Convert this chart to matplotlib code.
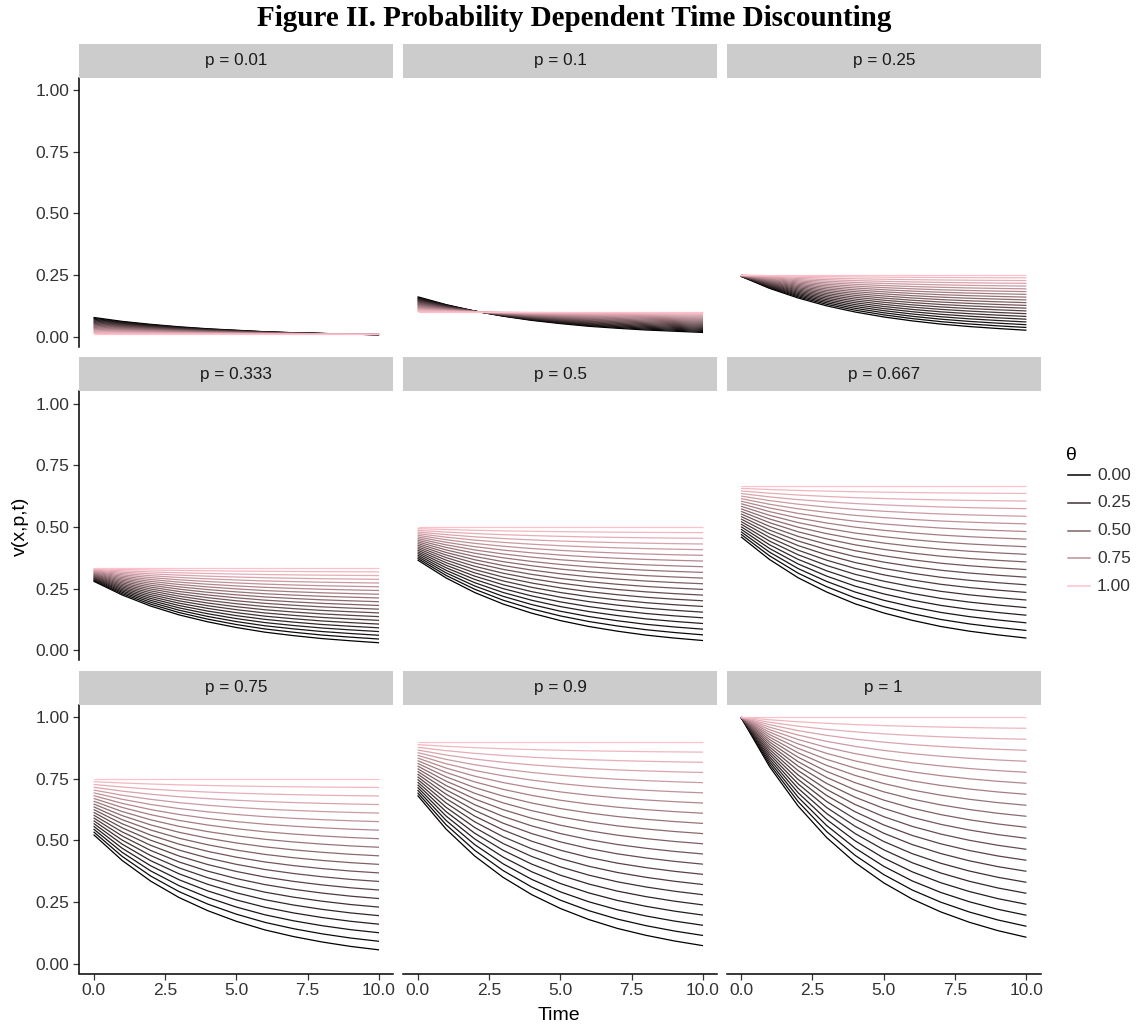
import numpy as np
import matplotlib
matplotlib.use("Agg")
import matplotlib.pyplot as plt
from matplotlib.lines import Line2D

plt.rcParams['font.family'] = ['Liberation Sans', 'DejaVu Sans']

# facets
p_values = [0.01, 0.1, 0.25, 0.333, 0.5, 0.667, 0.75, 0.9, 1]
panel_labels = ["p = 0.01", "p = 0.1", "p = 0.25",
                "p = 0.333", "p = 0.5", "p = 0.667",
                "p = 0.75", "p = 0.9", "p = 1"]

times = [0, 1, 2, 3, 4, 5, 6, 7, 8, 9, 10]
thetas = [0.0, 0.05, 0.1, 0.15, 0.2, 0.25, 0.3, 0.35, 0.4, 0.45, 0.5,
          0.55, 0.6, 0.65, 0.7, 0.75, 0.8, 0.85, 0.9, 0.95, 1.0]

curve_p001 = [0.078, 0.062, 0.050, 0.040, 0.032, 0.026, 0.020, 0.016, 0.013, 0.010, 0.008]
curve_p010 = [0.162, 0.130, 0.104, 0.083, 0.066, 0.053, 0.042, 0.034, 0.027, 0.022, 0.017]
curve_p025 = [0.245, 0.196, 0.157, 0.125, 0.100, 0.080, 0.064, 0.051, 0.041, 0.033, 0.026]
curve_p033 = [0.280, 0.224, 0.179, 0.143, 0.115, 0.092, 0.073, 0.059, 0.047, 0.038, 0.030]
curve_p050 = [0.366, 0.293, 0.234, 0.187, 0.150, 0.120, 0.096, 0.077, 0.061, 0.049, 0.039]
curve_p067 = [0.460, 0.368, 0.294, 0.236, 0.188, 0.151, 0.121, 0.096, 0.077, 0.062, 0.049]
curve_p075 = [0.524, 0.419, 0.335, 0.268, 0.215, 0.172, 0.137, 0.110, 0.088, 0.070, 0.056]
curve_p090 = [0.683, 0.546, 0.437, 0.350, 0.280, 0.224, 0.179, 0.143, 0.115, 0.092, 0.073]
curve_p100 = [1.000, 0.800, 0.640, 0.512, 0.410, 0.328, 0.262, 0.210, 0.168, 0.134, 0.107]
base_curves = [curve_p001, curve_p010, curve_p025, curve_p033, curve_p050,
               curve_p067, curve_p075, curve_p090, curve_p100]

legend_thetas = [0.0, 0.25, 0.5, 0.75, 1.0]

LOW = np.array([0.0, 0.0, 0.0])
HIGH = np.array([1.0, 0.753, 0.796])   # "pink"


def theta_colour(th):
    return tuple(LOW + (HIGH - LOW) * th)


W, H = 1138, 1028


def box(left, top, width, height):
    # pixel box (top-left origin) -> figure fraction
    return [left / W, 1 - (top + height) / H, width / W, height / H]


col_left = [79.3, 403.3, 726.7]
strip_top = [43.5, 357.0, 670.5]
panel_w, strip_h, panel_h = 314, 34, 269
text_col = "#333333"

fig = plt.figure(figsize=(W / 100, H / 100), dpi=100)

for i in range(9):
    r, c = divmod(i, 3)
    ax = fig.add_axes(box(col_left[c], strip_top[r] + strip_h, panel_w, panel_h))
    base = np.array(base_curves[i])
    p = p_values[i]
    # the other theta lines sit evenly between the theta=0 curve and the flat line at p
    for th in thetas:
        v = th * p + (1 - th) * base
        ax.plot(times, v, color=theta_colour(th), lw=0.9, solid_capstyle='butt')

    ax.set_xlim(-0.5, 10.5)
    ax.set_ylim(-0.04, 1.052)
    ax.set_xticks([0, 2.5, 5, 7.5, 10])
    ax.set_yticks([0, 0.25, 0.5, 0.75, 1.0])
    for s in ax.spines.values():
        s.set_visible(False)
    ax.tick_params(length=4.5, width=0.9, color=text_col, labelsize=12.5,
                   labelcolor=text_col, pad=2.5)
    if c == 0:
        ax.spines['left'].set_visible(True)
        ax.spines['left'].set_linewidth(1.1)
        ax.set_yticklabels(["0.00", "0.25", "0.50", "0.75", "1.00"])
    else:
        ax.tick_params(left=False, labelleft=False)
    if r == 2:
        ax.spines['bottom'].set_visible(True)
        ax.spines['bottom'].set_linewidth(1.1)
        ax.set_xticklabels(["0.0", "2.5", "5.0", "7.5", "10.0"])
    else:
        ax.tick_params(bottom=False, labelbottom=False)

    sx = fig.add_axes(box(col_left[c], strip_top[r], panel_w, strip_h))
    sx.set_facecolor("#CCCCCC")
    sx.set_xticks([])
    sx.set_yticks([])
    for s in sx.spines.values():
        s.set_visible(False)
    sx.text(0.5, 0.5, panel_labels[i], ha='center', va='center',
            fontsize=12.3, color="#1A1A1A", transform=sx.transAxes)

fig.text(574 / W, 1 - 18 / H, "Figure II. Probability Dependent Time Discounting",
         ha='center', va='center', fontsize=21, fontweight='bold',
         family=['Liberation Serif', 'DejaVu Serif'])
fig.text(559 / W, 1 - 1015 / H, "Time", ha='center', va='center', fontsize=14)
fig.text(20 / W, 1 - 526 / H, "v(x,p,t)", ha='center', va='center',
         fontsize=14, rotation=90)

# legend
fig.text(1066 / W, 1 - 455 / H, "\u03b8", ha='left', va='center', fontsize=14)
for k, th in enumerate(legend_thetas):
    y = 475 + k * 27.8
    fig.add_artist(Line2D([1068 / W, 1090 / W], [1 - y / H, 1 - y / H],
                          color=theta_colour(th), lw=1.1, transform=fig.transFigure))
    fig.text(1097 / W, 1 - y / H, "%.2f" % th, ha='left', va='center',
             fontsize=12.5, color=text_col)

fig.savefig("out.png", dpi=100)
